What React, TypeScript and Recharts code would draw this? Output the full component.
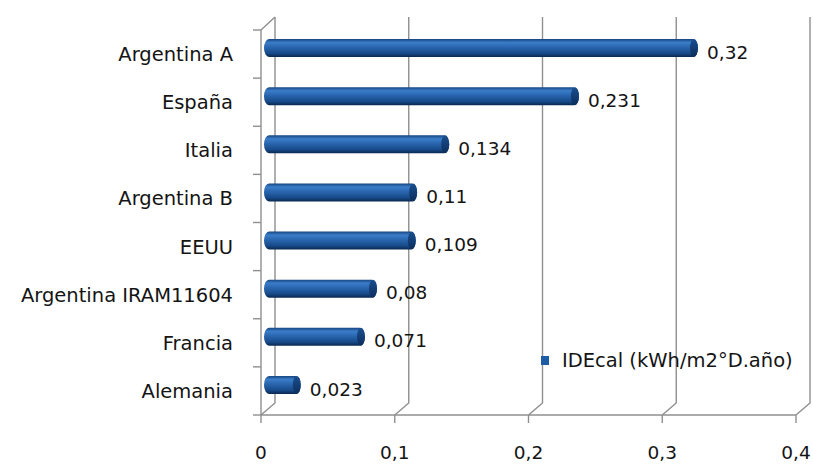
import React from 'react';
import {
  BarChart,
  Bar,
  XAxis,
  YAxis,
  CartesianGrid,
  LabelList,
  Legend
} from 'recharts';

const categories = ['Argentina A', 'España', 'Italia', 'Argentina B', 'EEUU', 'Argentina IRAM11604', 'Francia', 'Alemania'];
const values = [0.32, 0.231, 0.134, 0.11, 0.109, 0.08, 0.071, 0.023];
const xTicks = [0, 0.1, 0.2, 0.3, 0.4];
const seriesName = 'IDEcal (kWh/m2°D.año)';

const FONT = '"DejaVu Sans", "Open Sans", sans-serif';
const GRID = '#8f8f8f';
const TEXT = '#141414';
const DEPTH_X = 14;
const DEPTH_Y = 12;

const data = categories.map((name, i) => ({ name, value: values[i] }));

const comma = (v: number) => String(v).replace('.', ',');

// back wall gridlines with the little 3D floor diagonal
function GridLine(props: any) {
  const { x1, y1, y2, index } = props;
  let d = `M${x1},${y2} L${x1 + DEPTH_X},${y2 - DEPTH_Y} L${x1 + DEPTH_X},${y1 - DEPTH_Y - 1}`;
  if (index === 0) d += ` M${x1},${y1} L${x1 + DEPTH_X},${y1 - DEPTH_Y - 1}`;
  return <path key={props.key} d={d} stroke={GRID} strokeWidth={1.4} fill="none" />;
}

function CategoryTick(props: any) {
  const { x, y, payload, index, visibleTicksCount } = props;
  const half = payload.offset || 24;
  const axisX = x + 28;
  return (
    <g>
      <line x1={axisX - 8} x2={axisX} y1={y - half} y2={y - half} stroke={GRID} strokeWidth={1.4} />
      {index === visibleTicksCount - 1 && (
        <line x1={axisX - 8} x2={axisX} y1={y + half} y2={y + half} stroke={GRID} strokeWidth={1.4} />
      )}
      <text x={x} y={y} dy="0.36em" textAnchor="end" fill={TEXT} fontSize={19.5} fontFamily={FONT}>
        {payload.value}
      </text>
    </g>
  );
}

function Cylinder(props: any) {
  const { x, y, width, height } = props;
  const left = x + 3;
  const right = x + width + 9;
  const top = y - 6;
  const r = height / 2;
  return (
    <g>
      <rect x={left} y={top} width={right - left} height={height} rx={5} ry={r} fill="url(#cyl)" />
      <ellipse cx={right - 4} cy={top + r} rx={4} ry={r} fill="url(#cap)" />
    </g>
  );
}

function ValueLabel(props: any) {
  const { x, y, width, height, value } = props;
  return (
    <text x={x + width + 18} y={y + height / 2 - 2} dy="0.36em" fill={TEXT} fontSize={18.5} fontFamily={FONT}>
      {comma(value)}
    </text>
  );
}

function LegendBox() {
  return (
    <div style={{ display: 'flex', alignItems: 'center', fontFamily: FONT, fontSize: 19.5, color: TEXT, whiteSpace: 'nowrap' }}>
      <span style={{ display: 'inline-block', width: 8, height: 9, background: '#1f5ca6', marginRight: 13 }} />
      {seriesName}
    </div>
  );
}

export default function App() {
  return (
    <div style={{ position: 'absolute', left: 0, top: 0, width: 813, height: 464, background: '#fff' }}>
      <BarChart
        width={813}
        height={464}
        data={data}
        layout="vertical"
        margin={{ top: 30, right: 17, bottom: 0, left: 0 }}
      >
        <defs>
          <linearGradient id="cyl" x1="0" y1="0" x2="0" y2="1">
            <stop offset="0" stopColor="#15447f" />
            <stop offset="0.2" stopColor="#3b7dc8" />
            <stop offset="0.45" stopColor="#2a66b0" />
            <stop offset="0.8" stopColor="#174a88" />
            <stop offset="1" stopColor="#0a2850" />
          </linearGradient>
          <linearGradient id="cap" x1="0" y1="0" x2="0" y2="1">
            <stop offset="0" stopColor="#1b4f8f" />
            <stop offset="1" stopColor="#0c2e5c" />
          </linearGradient>
        </defs>
        <CartesianGrid horizontal={false} vertical={GridLine} />
        <XAxis
          type="number"
          domain={[0, 0.4]}
          ticks={xTicks}
          tickFormatter={comma}
          height={49}
          axisLine={{ stroke: GRID, strokeWidth: 1.4 }}
          tickLine={{ stroke: GRID, strokeWidth: 1.4 }}
          tickSize={8}
          tickMargin={23}
          tick={{ fill: TEXT, fontSize: 18.5, fontFamily: FONT }}
        />
        <YAxis
          type="category"
          dataKey="name"
          width={261}
          axisLine={{ stroke: GRID, strokeWidth: 1.4 }}
          tickLine={false}
          tickSize={8}
          tickMargin={20}
          tick={CategoryTick}
          interval={0}
        />
        <Legend
          layout="horizontal"
          verticalAlign="middle"
          align="center"
          content={LegendBox}
          wrapperStyle={{ position: 'absolute', left: 541, top: 349, width: 272 }}
        />
        <Bar dataKey="value" name={seriesName} barSize={18} shape={Cylinder} isAnimationActive={false}>
          <LabelList dataKey="value" content={ValueLabel} />
        </Bar>
      </BarChart>
    </div>
  );
}
